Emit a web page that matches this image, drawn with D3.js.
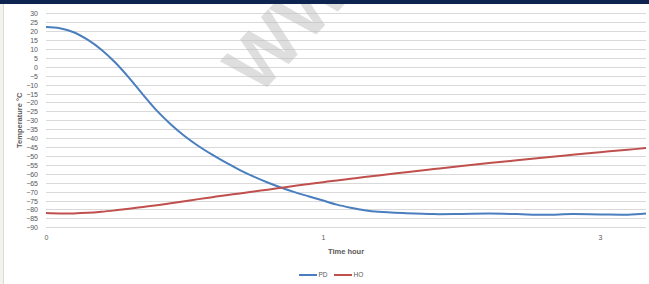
<!DOCTYPE html>
<html>
<head>
<meta charset="utf-8">
<script src="https://cdn.jsdelivr.net/npm/d3@7"></script>
<style>
  body { margin: 0; background: #fff; }
  svg { display: block; font-family: "Liberation Sans", Arial, sans-serif; }
</style>
</head>
<body>
<svg width="649" height="284"></svg>
<script>
// time in hours (axis positions), temperatures in °C
var times = [0, 0.05, 0.1, 0.15, 0.2, 0.25, 0.3, 0.35, 0.4, 0.45, 0.5, 0.55, 0.6, 0.65, 0.7, 0.75, 0.8, 0.85, 0.9, 0.95, 1.0, 1.05, 1.1, 1.15, 1.2, 1.3, 1.4, 1.5, 1.6, 1.7, 1.8, 1.9, 2.0, 2.1, 2.166];
var pdValues = [22.3, 21.6, 19.4, 15.2, 9.6, 2.4, -6.2, -15.6, -24.6, -32.2, -38.8, -44.4, -49.3, -53.8, -57.9, -61.6, -64.9, -67.8, -70.4, -72.7, -75.0, -77.3, -79.0, -80.4, -81.3, -82.1, -82.6, -82.5, -82.3, -82.6, -83.0, -82.6, -82.8, -82.9, -82.2];
var hoValues = [-82.0, -82.2, -82.2, -81.9, -81.3, -80.5, -79.6, -78.6, -77.6, -76.5, -75.4, -74.2, -73.1, -72.0, -71.0, -69.9, -68.9, -67.8, -66.7, -65.7, -64.7, -63.7, -62.75, -61.8, -60.9, -59.1, -57.35, -55.65, -54.0, -52.4, -50.85, -49.35, -47.9, -46.5, -45.6];
var yTicks = d3.range(30, -91, -5);
var xTicks = [0, 1, 2];
var xTickLabels = ["0", "1", "3"];
var seriesNames = ["PD", "HO"];
var seriesColors = ["#4a7ebf", "#c0504d"];

var svg = d3.select('svg');
var width = 649, height = 284;
var plot = {left: 46, right: 646, top: 13.3, bottom: 227.3};

var x = d3.scaleLinear().domain([0, 2.166]).range([plot.left, plot.right]);
var y = d3.scaleLinear().domain([30, -90]).range([plot.top, plot.bottom]);

// left frame strip
svg.append('rect').attr('x', 0).attr('y', 0).attr('width', 3).attr('height', height).attr('fill', '#f4f2ec');
svg.append('line').attr('x1', 3.5).attr('x2', 3.5).attr('y1', 0).attr('y2', height)
    .attr('stroke', '#dcdad4').attr('stroke-width', 1);

// gridlines
svg.append('g')
    .selectAll('line')
    .data(yTicks)
    .enter().append('line')
    .attr('x1', plot.left).attr('x2', plot.right)
    .attr('y1', function(d) { return Math.round(y(d)) + 0.5; })
    .attr('y2', function(d) { return Math.round(y(d)) + 0.5; })
    .attr('stroke', '#d9d9d9')
    .attr('stroke-width', 1);

// y axis labels
var yAxis = d3.axisLeft(y).tickValues(yTicks).tickSize(0).tickPadding(0);
var gy = svg.append('g').attr('transform', 'translate(38,0)').call(yAxis);
gy.select('.domain').remove();
gy.selectAll('text').attr('fill', '#595959').style('font-size', '7px').attr('dy', '0.35em')
    .attr('font-family', '"Liberation Sans", Arial, sans-serif');

// x axis labels
var xAxis = d3.axisBottom(x).tickValues(xTicks).tickSize(0).tickPadding(0)
    .tickFormat(function(d, i) { return xTickLabels[i]; });
var gx = svg.append('g').attr('transform', 'translate(0,235)').call(xAxis);
gx.select('.domain').remove();
gx.selectAll('text').attr('fill', '#595959').style('font-size', '7px')
    .attr('font-family', '"Liberation Sans", Arial, sans-serif');

// axis titles
svg.append('text')
    .attr('x', (plot.left + plot.right) / 2).attr('y', 254)
    .attr('text-anchor', 'middle')
    .attr('fill', '#595959').style('font-size', '7.5px').style('font-weight', 'bold')
    .text('Time hour');

svg.append('text')
    .attr('transform', 'translate(22,' + ((plot.top + plot.bottom) / 2) + ') rotate(-90)')
    .attr('text-anchor', 'middle')
    .attr('fill', '#595959').style('font-size', '7.5px').style('font-weight', 'bold')
    .text('Temperature °C');

// lines (smoothed like the spreadsheet chart)
var line = d3.line()
    .x(function(d) { return x(d[0]); })
    .y(function(d) { return y(d[1]); })
    .curve(d3.curveCatmullRom.alpha(0.5));

[pdValues, hoValues].forEach(function(vals, i) {
  svg.append('path')
      .datum(times.map(function(t, j) { return [t, vals[j]]; }))
      .attr('d', line)
      .attr('fill', 'none')
      .attr('stroke', seriesColors[i])
      .attr('stroke-width', 2)
      .attr('stroke-linejoin', 'round');
});

// watermark
svg.append('text')
    .attr('transform', 'translate(258,97) rotate(-47)')
    .attr('fill', '#bdbdbd').attr('fill-opacity', 0.5)
    .style('font-size', '76px').style('font-weight', 'bold')
    .text('WW');

// legend
var legend = svg.append('g').attr('transform', 'translate(299,275)');
var legendX = [0, 35];
seriesNames.forEach(function(name, i) {
  var g = legend.append('g').attr('transform', 'translate(' + legendX[i] + ',0)');
  g.append('line').attr('x1', 0).attr('x2', 18).attr('y1', 0).attr('y2', 0)
      .attr('stroke', seriesColors[i]).attr('stroke-width', 2);
  g.append('text').attr('x', 19.5).attr('y', 0).attr('dy', '0.35em')
      .attr('fill', '#595959').style('font-size', '6.5px').text(name);
});

// top bar
svg.append('rect').attr('x', 0).attr('y', 0).attr('width', width).attr('height', 4).attr('fill', '#0d2450');
</script>
</body>
</html>
